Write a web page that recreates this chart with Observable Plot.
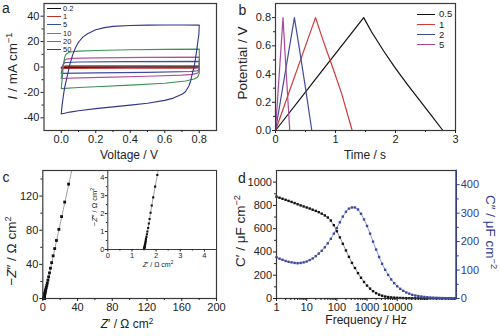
<!DOCTYPE html>
<html><head><meta charset="utf-8">
<script src="https://cdn.jsdelivr.net/npm/d3@7"></script>
<script src="https://cdn.jsdelivr.net/npm/@observablehq/plot@0.6"></script>
<style>
html,body{margin:0;padding:0;background:#fff;}
#fig{position:relative;width:500px;height:336px;overflow:hidden;background:#fff;font-family:"Liberation Sans",Arial,Helvetica,sans-serif;color:#222;}
#fig svg{position:absolute;}
.lbl{position:absolute;white-space:nowrap;line-height:1;}
.lbl sup{font-size:0.68em;vertical-align:baseline;position:relative;top:-0.55em;line-height:0;}
.leg{position:absolute;line-height:1;}
.leg .row{display:flex;align-items:center;white-space:nowrap;}
.leg .sw{display:inline-block;border-top:1.3px solid;height:0;}
</style></head><body><div id="fig"></div><script>
// ---------- Panel a: CV loops (V, mA cm^-1), scan rates ----------
const aRates = ["0.2", "1", "5", "10", "20", "50"];
const cv02 = [[0,-0.3],[0.01,0.15],[0.4,0.22],[0.8,0.25],[0.8,-0.2],[0.4,-0.25],[0,-0.3]];
const cv1 = [[0,-1.1],[0.01,0.5],[0.03,0.85],[0.4,0.95],[0.8,1.0],[0.8,-0.6],[0.78,-0.9],[0.4,-1.0],[0,-1.1]];
const cv5 = [[0,-5],[0.006,-1],[0.012,2.5],[0.025,3.6],[0.1,3.9],[0.4,4.2],[0.8,4.4],[0.8,-1.5],[0.79,-3],[0.75,-3.6],[0.5,-4.2],[0.2,-4.6],[0,-5]];
const cv10 = [[0,-9],[0.005,-4],[0.012,2],[0.02,5],[0.03,6.2],[0.06,6.8],[0.2,7.2],[0.5,7.6],[0.8,7.8],[0.8,-3],[0.79,-4.8],[0.76,-5.8],[0.7,-6.4],[0.5,-7.3],[0.3,-8],[0.1,-8.6],[0,-9]];
const cv20 = [[0,-17],[0.005,-10],[0.01,-2],[0.015,4],[0.022,8.5],[0.03,10.5],[0.05,11.8],[0.1,12.5],[0.2,13],[0.4,13.6],[0.6,13.9],[0.8,14.1],[0.8,-5],[0.79,-8],[0.77,-9.5],[0.72,-11],[0.6,-12.8],[0.4,-14.3],[0.2,-15.6],[0.1,-16.2],[0,-17]];
const cv50 = [[0,-37],[0.005,-30],[0.013,-22],[0.02,-16],[0.035,-7],[0.05,2],[0.065,9],[0.08,14.5],[0.1,19.5],[0.125,23.5],[0.15,26],[0.2,29.3],[0.25,31],[0.3,32],[0.4,32.7],[0.5,33],[0.6,33.1],[0.7,33.1],[0.8,33],
  [0.798,26],[0.79,18],[0.78,8],[0.77,0],[0.76,-5],[0.75,-11],[0.74,-15],[0.72,-19.5],[0.7,-21.5],[0.65,-24.5],[0.6,-26.3],[0.5,-28.5],[0.4,-30],[0.3,-31.4],[0.2,-32.8],[0.1,-34.4],[0.05,-35.5],[0,-37]];
const aCurves = [cv02, cv1, cv5, cv10, cv20, cv50];
const aColors = ["#111111", "#c0302e", "#3d4b9e", "#b9509b", "#3b9256", "#33358a"];
const aXTicks = [0, 0.2, 0.4, 0.6, 0.8], aXMinor = [0.1, 0.3, 0.5, 0.7];
const aYTicks = [-40, -20, 0, 20, 40], aYMinor = [-30, -10, 10, 30];

// ---------- Panel b: charge/discharge (s, V), current densities ----------
const bNames = ["0.5", "1", "2", "5"];
const gcd05 = [[0,0],[0.7,0.381],[1.47,0.8],[1.6,0.70],[1.8,0.565],[2.0,0.44],[2.2,0.325],[2.4,0.215],[2.6,0.105],[2.79,0]];
const gcd1 = [[0,0],[0.667,0.8],[0.8,0.63],[0.95,0.45],[1.1,0.265],[1.278,0]];
const gcd2 = [[0,0],[0.315,0.8],[0.4,0.575],[0.5,0.3],[0.605,0]];
const gcd5 = [[0,0],[0.125,0.8],[0.16,0.54],[0.2,0.26],[0.238,0]];
const bCurves = [gcd05, gcd1, gcd2, gcd5];
const bColors = ["#111111", "#d0383a", "#3f4c9c", "#a8479e"];
const bXTicks = [0, 1, 2, 3], bXMinor = [0.5, 1.5, 2.5];
const bYTicks = [0, 0.2, 0.4, 0.6, 0.8], bYMinor = [0.1, 0.3, 0.5, 0.7];

// ---------- Panel c: Nyquist (Z', -Z'') ----------
const nyqIm = [134,113,96,81,68,58.5,50,42,35.5,30,25.4,21.5,18.2,15.4,13,11,9.3,7.9,6.7,5.7,4.8,4.15,3.5,2.9,2.45,2.05,1.7,1.45,1.2,1.0,0.85,0.7,0.58,0.48,0.4,0.33,0.27,0.22,0.18,0.14,0.11,0.08,0.06,0.04,0.02];
const nyqRe = [29.7,25.2,21.6,18.5,15.7,13.7,11.9,10.2,8.8,7.7,6.7,5.9,5.2,4.6,4.0,3.5,3.1,2.75,2.5,2.3,2.15,2.05,1.96,1.88,1.82,1.77,1.73,1.70,1.67,1.64,1.62,1.60,1.58,1.57,1.56,1.55,1.54,1.535,1.53,1.52,1.515,1.51,1.505,1.5,1.5];
const nyqFitRe = [1.5, 33.3], nyqFitIm = [0, 150];
const cXTicks = [0, 40, 80, 120, 160, 200], cXMinor = [20, 60, 100, 140, 180];
const cYTicks = [0, 40, 80, 120], cYMinor = [20, 60, 100, 140];
const iXTicks = [0, 1, 2, 3, 4], iXMinor = [0.5, 1.5, 2.5, 3.5];
const iYTicks = [0, 1, 2, 3, 4], iYMinor = [0.5, 1.5, 2.5, 3.5];

// ---------- Panel d: C' and C'' vs frequency ----------
const dFreq = [1,1.26,1.58,2,2.51,3.16,3.98,5.01,6.31,7.94,
  10,12.6,15.8,20,25.1,31.6,39.8,50.1,63.1,79.4,
  100,126,158,200,251,316,398,501,631,794,
  1000,1260,1580,2000,2510,3160,3980,5010,6310,7940,
  10000,12600,15800,20000,25100,31600,39800,50100,63100,79400,
  100000,126000,158000,200000,251000,316000,398000,501000,631000,794000];
const dCReal = [875,866,857,848,839,830,820,810,800,791,
  782,773,763,753,742,729,714,696,670,630,
  578,525,470,413,358,306,262,218,178,142,
  111,85,63,46,33,24,17,12.5,9.5,7.5,
  6,4.8,3.9,3.2,2.6,2.1,1.8,1.5,1.3,1.1,
  1,0.9,0.8,0.7,0.6,0.55,0.5,0.45,0.4,0.35];
const dCImag = [145,140,136,132,129,127,125,124,125,127,
  130,135,141,149,158,168,180,194,210,228,
  248,268,288,305,316,320,320,313,298,278,
  255,228,200,172,146,122,101,83,67,54,
  43,34,27,21,17,13,10.5,8.5,7,5.5,
  4.5,3.5,3,2.5,2,1.6,1.3,1,0.8,0.6];
const dXTicks = [1, 10, 100, 1000, 10000];
const dLTicks = [0, 200, 400, 600, 800, 1000], dLMinor = [100, 300, 500, 700, 900];
const dRTicks = [0, 100, 200, 300, 400], dRMinor = [50, 150, 250, 350];

// ---------- rendering ----------
const FONT = '"Liberation Sans", Arial, Helvetica, sans-serif';
const FRAME = "#3a3a3a", TXT = "#222", NAVY = "#2f3b8c";
const fig = document.getElementById("fig");
const st = (s) => ({background: "transparent", fontFamily: FONT, fontSize: s + "px", color: TXT, overflow: "visible"});
function place(svg, left, top) { svg.style.left = left + "px"; svg.style.top = top + "px"; fig.appendChild(svg); }
const blank = () => "";
function axes(xt, xm, yt, ym, fx, fy, o = {}) {
  const ts = o.ts ?? 3, ms = o.ms ?? 2, pad = o.pad ?? 1.5;
  return [
    Plot.axisX(xt, {tickSize: ts, tickPadding: pad, tickFormat: fx, label: null}),
    Plot.axisX(xm, {tickSize: ms, tickFormat: blank, label: null}),
    Plot.axisY(yt, {tickSize: ts, tickPadding: pad, tickFormat: fy, label: null}),
    Plot.axisY(ym, {tickSize: ms, tickFormat: blank, label: null})
  ];
}

// Panel a
place(Plot.plot({
  width: 250, height: 168, marginLeft: 43.5, marginRight: 34, marginTop: 3, marginBottom: 38,
  style: st(11),
  x: {domain: [-0.1, 0.9], axis: null, label: null},
  y: {domain: [-50, 50], axis: null, label: null},
  marks: [
    ...aCurves.map((c, i) => Plot.line(c, {x: d => d[0], y: d => d[1], stroke: aColors[i], strokeWidth: 1.1})),
    Plot.frame({stroke: FRAME, strokeWidth: 1.2}),
    ...axes(aXTicks, aXMinor, aYTicks, aYMinor, d => d.toFixed(1), d => String(d))
  ]
}), 0, 0);

// Panel b
place(Plot.plot({
  width: 250, height: 168, marginLeft: 25, marginRight: 45, marginTop: 3, marginBottom: 38,
  style: st(11),
  x: {domain: [0, 3], axis: null, label: null},
  y: {domain: [0, 0.9], axis: null, label: null},
  marks: [
    ...bCurves.map((c, i) => Plot.line(c, {x: d => d[0], y: d => d[1], stroke: bColors[i], strokeWidth: 1.2})),
    Plot.frame({stroke: FRAME, strokeWidth: 1.2}),
    ...axes(bXTicks, bXMinor, bYTicks, bYMinor, d => String(d), d => d.toFixed(1))
  ]
}), 250, 0);

// Panel c main
const nyq = nyqRe.map((r, i) => ({re: r, im: nyqIm[i]}));
const nyqFit = nyqFitRe.map((r, i) => ({re: r, im: nyqFitIm[i]}));
place(Plot.plot({
  width: 250, height: 168, marginLeft: 42.3, marginRight: 34, marginTop: 2, marginBottom: 38,
  style: st(11),
  x: {domain: [0, 200], axis: null, label: null},
  y: {domain: [0, 150], axis: null, label: null},
  marks: [
    Plot.line(nyqFit, {x: "re", y: "im", stroke: "#8a8a8a", strokeWidth: 0.8}),
    Plot.dot(nyq, {x: "re", y: "im", symbol: "square", r: 1.6, fill: "#111", stroke: "none"}),
    Plot.frame({stroke: FRAME, strokeWidth: 1.2}),
    ...axes(cXTicks, cXMinor, cYTicks, cYMinor, d => String(d), d => String(d))
  ]
}), 0, 168);

// Panel c inset
place(Plot.plot({
  width: 250, height: 168, marginLeft: 107.3, marginRight: 34, marginTop: 2, marginBottom: 87,
  style: st(7.5),
  x: {domain: [0, 4.5], axis: null, label: null},
  y: {domain: [0, 4.4], axis: null, label: null},
  marks: [
    Plot.frame({fill: "white", stroke: "none"}),
    Plot.line(nyq, {x: "re", y: "im", stroke: "#8a8a8a", strokeWidth: 0.8, clip: true}),
    Plot.dot(nyq, {x: "re", y: "im", symbol: "square", r: 1.2, fill: "#111", stroke: "none", clip: true}),
    Plot.frame({stroke: FRAME, strokeWidth: 1}),
    ...axes(iXTicks, iXMinor, iYTicks, iYMinor, d => String(d), d => String(d), {ts: 2.5, ms: 1.5, pad: 1})
  ]
}), 0, 168);

// Panel d
const dData = dFreq.map((f, i) => ({f, c1: dCReal[i], c2: dCImag[i]}));
const dMinor = [];
for (const dec of [1, 10, 100, 1000, 10000, 100000]) for (let k = 2; k <= 9; k++) if (k * dec < 9e5) dMinor.push(k * dec);
dMinor.push(100000);
place(Plot.plot({
  width: 250, height: 168, marginLeft: 26, marginRight: 44.3, marginTop: 2, marginBottom: 38,
  style: st(11),
  x: {type: "log", domain: [1, 9e5], axis: null, label: null},
  y: {domain: [0, 1100], axis: null, label: null},
  marks: [
    Plot.line(dData, {x: "f", y: "c1", stroke: "#444", strokeWidth: 0.6}),
    Plot.dot(dData, {x: "f", y: "c1", symbol: "square", r: 1.35, fill: "#111", stroke: "none"}),
    Plot.frame({stroke: FRAME, strokeWidth: 1.2}),
    ...axes(dXTicks, dMinor, dLTicks, dLMinor, d => String(d), d => String(d))
  ]
}), 250, 168);
place(Plot.plot({
  width: 250, height: 168, marginLeft: 26, marginRight: 44.3, marginTop: 2, marginBottom: 38,
  style: st(11),
  x: {type: "log", domain: [1, 9e5], axis: null, label: null},
  y: {domain: [0, 450], axis: null, label: null},
  marks: [
    Plot.line(dData, {x: "f", y: "c2", stroke: "#6f7cc4", strokeWidth: 0.8}),
    Plot.dot(dData, {x: "f", y: "c2", symbol: "square", r: 1.35, fill: "#3d4a9c", stroke: "none"}),
    Plot.frame({anchor: "right", stroke: NAVY, strokeWidth: 1.4}),
    Plot.axisY(dRTicks, {anchor: "right", tickSize: 3, tickPadding: 1.5, tickFormat: d => String(d), label: null, stroke: NAVY, fill: NAVY, color: NAVY}),
    Plot.axisY(dRMinor, {anchor: "right", tickSize: 2, tickFormat: blank, label: null, stroke: NAVY, color: NAVY})
  ]
}), 250, 168);

// ---------- text: panel letters, axis titles ----------
function addLabel(html, cx, cy, size, rot = 0, color = TXT) {
  const d = document.createElement("div");
  d.className = "lbl";
  d.innerHTML = html;
  Object.assign(d.style, {left: cx + "px", top: cy + "px", fontSize: size + "px", color,
    transform: `translate(-50%,-50%) rotate(${rot}deg)`});
  fig.appendChild(d);
}
addLabel("a", 6, 8, 14);
addLabel("b", 242.5, 10, 14);
addLabel("c", 6, 177, 14);
addLabel("d", 242, 178, 14);
addLabel("<i>I</i> / mA cm<sup>−1</sup>", 12.5, 66, 13.5, -90);
addLabel("Voltage / V", 129, 154.5, 12);
addLabel("Potential / V", 243, 63, 13.5, -90);
addLabel("Time / s", 365, 154.5, 12);
addLabel("−<i>Z</i>″ / Ω cm<sup>2</sup>", 12, 251, 13.5, -90);
addLabel("<i>Z</i>′ / Ω cm<sup>2</sup>", 127, 324, 12);
addLabel("−<i>Z</i>″ / Ω cm<sup>2</sup>", 95, 207, 7.5, -90);
addLabel("<i>Z</i>′ / Ω cm<sup>2</sup>", 158, 264, 7);
addLabel("C′ / μF cm<sup>−2</sup>", 241, 231, 13.5, -90);
addLabel("Frequency / Hz", 366, 320, 12);
addLabel("C″ / μF cm<sup>−2</sup>", 490, 232, 13.5, 90, NAVY);

// ---------- legends ----------
function addLegend(names, colors, left, top, rowH, swW, gap, size) {
  const box = document.createElement("div");
  box.className = "leg";
  Object.assign(box.style, {left: left + "px", top: top + "px", fontSize: size + "px"});
  names.forEach((n, i) => {
    const row = document.createElement("div"); row.className = "row"; row.style.height = rowH + "px";
    const sw = document.createElement("span"); sw.className = "sw";
    sw.style.width = swW + "px"; sw.style.borderTopColor = colors[i]; sw.style.marginRight = gap + "px";
    const t = document.createElement("span"); t.textContent = n;
    row.append(sw, t); box.appendChild(row);
  });
  fig.appendChild(box);
}
addLegend(aRates, aColors, 47, 4.1, 8.35, 14, 2, 7.5);
addLegend(bNames, bColors, 417, 8.9, 10.3, 18, 4, 9.5);
</script></body></html>
